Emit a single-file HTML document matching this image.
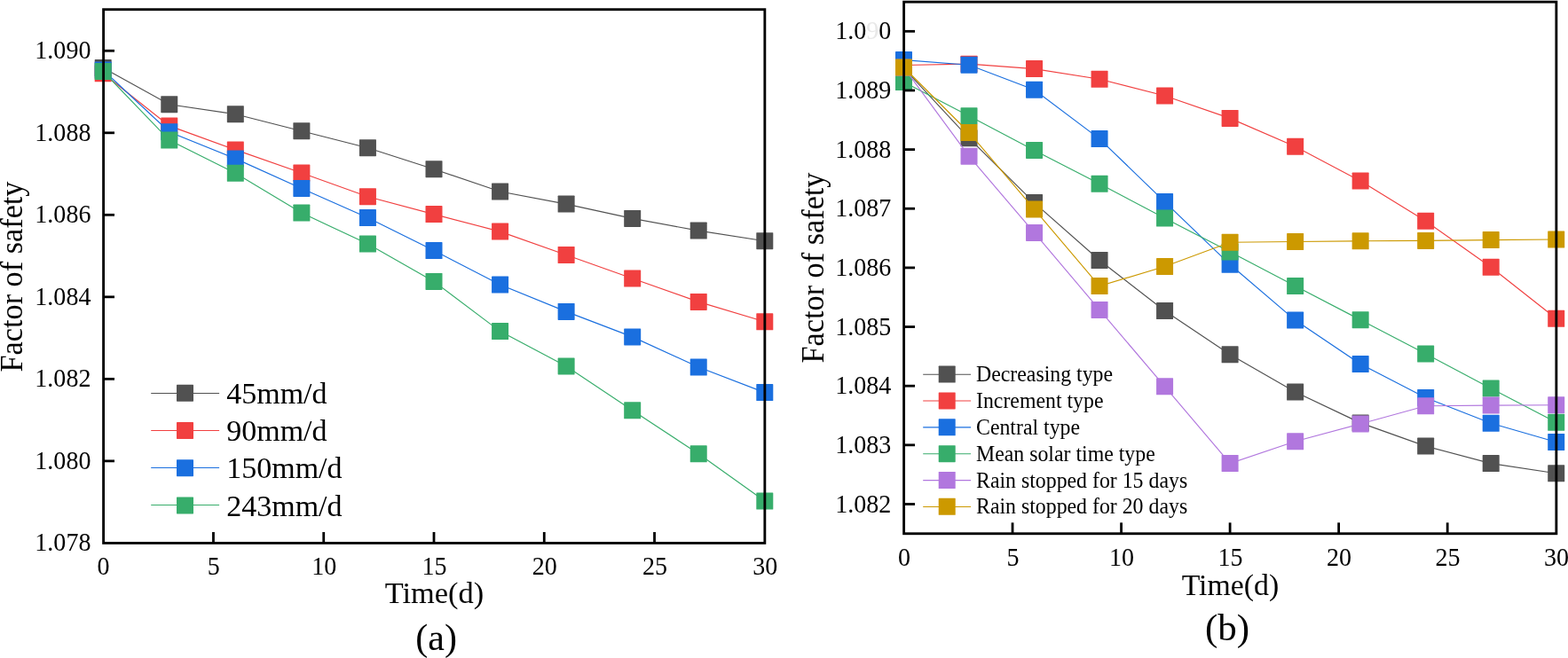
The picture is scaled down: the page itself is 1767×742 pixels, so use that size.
<!DOCTYPE html>
<html lang="en"><head><meta charset="utf-8"><title>Factor of safety vs time</title>
<style>html,body{margin:0;padding:0;background:#fff}body{width:1767px;height:742px;overflow:hidden}svg{display:block}text{font-family:"Liberation Serif","Times New Roman",serif;fill:#000}</style></head><body>
<svg width="1767" height="742" viewBox="0 0 1767 742">
<rect width="1767" height="742" fill="#fff"/>
<polyline points="116.2,76.6 190.76,117.7 265.32,128.7 339.88,147.7 414.44,166.7 489,190.7 563.56,216 638.12,230.1 712.68,246.4 787.24,260.1 861.8,271.7" fill="none" stroke="#515151" stroke-width="1.15"/>
<rect x="106.7" y="67.1" width="19.0" height="19.0" rx="0.6" fill="#515151"/>
<rect x="181.26" y="108.2" width="19.0" height="19.0" rx="0.6" fill="#515151"/>
<rect x="255.82" y="119.2" width="19.0" height="19.0" rx="0.6" fill="#515151"/>
<rect x="330.38" y="138.2" width="19.0" height="19.0" rx="0.6" fill="#515151"/>
<rect x="404.94" y="157.2" width="19.0" height="19.0" rx="0.6" fill="#515151"/>
<rect x="479.5" y="181.2" width="19.0" height="19.0" rx="0.6" fill="#515151"/>
<rect x="554.06" y="206.5" width="19.0" height="19.0" rx="0.6" fill="#515151"/>
<rect x="628.62" y="220.6" width="19.0" height="19.0" rx="0.6" fill="#515151"/>
<rect x="703.18" y="236.9" width="19.0" height="19.0" rx="0.6" fill="#515151"/>
<rect x="777.74" y="250.6" width="19.0" height="19.0" rx="0.6" fill="#515151"/>
<rect x="852.3" y="262.2" width="19.0" height="19.0" rx="0.6" fill="#515151"/>
<polyline points="116.2,82.8 190.76,141.9 265.32,168.9 339.88,195 414.44,221.7 489,241.6 563.56,261.1 638.12,287.5 712.68,314 787.24,340.4 861.8,362.8" fill="none" stroke="#F14040" stroke-width="1.15"/>
<rect x="106.7" y="73.3" width="19.0" height="19.0" rx="0.6" fill="#F14040"/>
<rect x="181.26" y="132.4" width="19.0" height="19.0" rx="0.6" fill="#F14040"/>
<rect x="255.82" y="159.4" width="19.0" height="19.0" rx="0.6" fill="#F14040"/>
<rect x="330.38" y="185.5" width="19.0" height="19.0" rx="0.6" fill="#F14040"/>
<rect x="404.94" y="212.2" width="19.0" height="19.0" rx="0.6" fill="#F14040"/>
<rect x="479.5" y="232.1" width="19.0" height="19.0" rx="0.6" fill="#F14040"/>
<rect x="554.06" y="251.6" width="19.0" height="19.0" rx="0.6" fill="#F14040"/>
<rect x="628.62" y="278" width="19.0" height="19.0" rx="0.6" fill="#F14040"/>
<rect x="703.18" y="304.5" width="19.0" height="19.0" rx="0.6" fill="#F14040"/>
<rect x="777.74" y="330.9" width="19.0" height="19.0" rx="0.6" fill="#F14040"/>
<rect x="852.3" y="353.3" width="19.0" height="19.0" rx="0.6" fill="#F14040"/>
<polyline points="116.2,79 190.76,148.7 265.32,178.9 339.88,212.4 414.44,245.5 489,282.6 563.56,321.1 638.12,351.4 712.68,379.9 787.24,414 861.8,442.6" fill="none" stroke="#1A6FDF" stroke-width="1.15"/>
<rect x="106.7" y="69.5" width="19.0" height="19.0" rx="0.6" fill="#1A6FDF"/>
<rect x="181.26" y="139.2" width="19.0" height="19.0" rx="0.6" fill="#1A6FDF"/>
<rect x="255.82" y="169.4" width="19.0" height="19.0" rx="0.6" fill="#1A6FDF"/>
<rect x="330.38" y="202.9" width="19.0" height="19.0" rx="0.6" fill="#1A6FDF"/>
<rect x="404.94" y="236" width="19.0" height="19.0" rx="0.6" fill="#1A6FDF"/>
<rect x="479.5" y="273.1" width="19.0" height="19.0" rx="0.6" fill="#1A6FDF"/>
<rect x="554.06" y="311.6" width="19.0" height="19.0" rx="0.6" fill="#1A6FDF"/>
<rect x="628.62" y="341.9" width="19.0" height="19.0" rx="0.6" fill="#1A6FDF"/>
<rect x="703.18" y="370.4" width="19.0" height="19.0" rx="0.6" fill="#1A6FDF"/>
<rect x="777.74" y="404.5" width="19.0" height="19.0" rx="0.6" fill="#1A6FDF"/>
<rect x="852.3" y="433.1" width="19.0" height="19.0" rx="0.6" fill="#1A6FDF"/>
<polyline points="116.2,80.5 190.76,158.1 265.32,195.3 339.88,240.1 414.44,275.1 489,317.4 563.56,373.6 638.12,412.9 712.68,462.8 787.24,511.8 861.8,565" fill="none" stroke="#37AD6B" stroke-width="1.15"/>
<rect x="106.7" y="71" width="19.0" height="19.0" rx="0.6" fill="#37AD6B"/>
<rect x="181.26" y="148.6" width="19.0" height="19.0" rx="0.6" fill="#37AD6B"/>
<rect x="255.82" y="185.8" width="19.0" height="19.0" rx="0.6" fill="#37AD6B"/>
<rect x="330.38" y="230.6" width="19.0" height="19.0" rx="0.6" fill="#37AD6B"/>
<rect x="404.94" y="265.6" width="19.0" height="19.0" rx="0.6" fill="#37AD6B"/>
<rect x="479.5" y="307.9" width="19.0" height="19.0" rx="0.6" fill="#37AD6B"/>
<rect x="554.06" y="364.1" width="19.0" height="19.0" rx="0.6" fill="#37AD6B"/>
<rect x="628.62" y="403.4" width="19.0" height="19.0" rx="0.6" fill="#37AD6B"/>
<rect x="703.18" y="453.3" width="19.0" height="19.0" rx="0.6" fill="#37AD6B"/>
<rect x="777.74" y="502.3" width="19.0" height="19.0" rx="0.6" fill="#37AD6B"/>
<rect x="852.3" y="555.5" width="19.0" height="19.0" rx="0.6" fill="#37AD6B"/>
<line x1="240.47" y1="612.4" x2="240.47" y2="600" stroke="#000" stroke-width="2.8"/>
<line x1="364.73" y1="612.4" x2="364.73" y2="600" stroke="#000" stroke-width="2.8"/>
<line x1="489" y1="612.4" x2="489" y2="600" stroke="#000" stroke-width="2.8"/>
<line x1="613.27" y1="612.4" x2="613.27" y2="600" stroke="#000" stroke-width="2.8"/>
<line x1="737.53" y1="612.4" x2="737.53" y2="600" stroke="#000" stroke-width="2.8"/>
<line x1="116.6" y1="519.88" x2="129" y2="519.88" stroke="#000" stroke-width="2.8"/>
<line x1="116.6" y1="427.36" x2="129" y2="427.36" stroke="#000" stroke-width="2.8"/>
<line x1="116.6" y1="334.84" x2="129" y2="334.84" stroke="#000" stroke-width="2.8"/>
<line x1="116.6" y1="242.32" x2="129" y2="242.32" stroke="#000" stroke-width="2.8"/>
<line x1="116.6" y1="149.8" x2="129" y2="149.8" stroke="#000" stroke-width="2.8"/>
<line x1="116.6" y1="57.28" x2="129" y2="57.28" stroke="#000" stroke-width="2.8"/>
<rect x="116.6" y="10.7" width="745.25" height="601.7" fill="none" stroke="#000" stroke-width="2.85"/>
<text transform="translate(102.4,621.4) scale(0.96,1)" font-size="29.2" text-anchor="end">1.078</text>
<text transform="translate(102.4,528.88) scale(0.96,1)" font-size="29.2" text-anchor="end">1.080</text>
<text transform="translate(102.4,436.36) scale(0.96,1)" font-size="29.2" text-anchor="end">1.082</text>
<text transform="translate(102.4,343.84) scale(0.96,1)" font-size="29.2" text-anchor="end">1.084</text>
<text transform="translate(102.4,251.32) scale(0.96,1)" font-size="29.2" text-anchor="end">1.086</text>
<text transform="translate(102.4,158.8) scale(0.96,1)" font-size="29.2" text-anchor="end">1.088</text>
<text transform="translate(102.4,66.28) scale(0.96,1)" font-size="29.2" text-anchor="end">1.090</text>
<text transform="translate(116.6,648.4) scale(0.96,1)" font-size="29.2" text-anchor="middle">0</text>
<text transform="translate(240.87,648.4) scale(0.96,1)" font-size="29.2" text-anchor="middle">5</text>
<text transform="translate(365.13,648.4) scale(0.96,1)" font-size="29.2" text-anchor="middle">10</text>
<text transform="translate(489.4,648.4) scale(0.96,1)" font-size="29.2" text-anchor="middle">15</text>
<text transform="translate(613.67,648.4) scale(0.96,1)" font-size="29.2" text-anchor="middle">20</text>
<text transform="translate(737.93,648.4) scale(0.96,1)" font-size="29.2" text-anchor="middle">25</text>
<text transform="translate(862.2,648.4) scale(0.96,1)" font-size="29.2" text-anchor="middle">30</text>
<line x1="170.2" y1="443.5" x2="247.1" y2="443.5" stroke="#515151" stroke-width="1.05"/>
<rect x="199" y="433.7" width="19.0" height="19.0" rx="0.6" fill="#515151"/>
<text transform="translate(255.2,454.9) scale(1.006,1)" font-size="33.8">45mm/d</text>
<line x1="170.2" y1="485.5" x2="247.1" y2="485.5" stroke="#F14040" stroke-width="1.05"/>
<rect x="199" y="475.93" width="19.0" height="19.0" rx="0.6" fill="#F14040"/>
<text transform="translate(255.2,497.13) scale(1.006,1)" font-size="33.8">90mm/d</text>
<line x1="170.2" y1="527.5" x2="247.1" y2="527.5" stroke="#1A6FDF" stroke-width="1.05"/>
<rect x="199" y="518.16" width="19.0" height="19.0" rx="0.6" fill="#1A6FDF"/>
<text transform="translate(255.2,539.36) scale(1.006,1)" font-size="33.8">150mm/d</text>
<line x1="170.2" y1="569.5" x2="247.1" y2="569.5" stroke="#37AD6B" stroke-width="1.05"/>
<rect x="199" y="560.39" width="19.0" height="19.0" rx="0.6" fill="#37AD6B"/>
<text transform="translate(255.2,581.59) scale(1.006,1)" font-size="33.8">243mm/d</text>
<text transform="translate(24.7,312) rotate(-90) scale(0.985,1)" font-size="34.8" text-anchor="middle">Factor of safety</text>
<text transform="translate(489.4,680.3)" font-size="34.4" text-anchor="middle">Time(d)</text>
<text transform="translate(491.6,732.5)" font-size="42" text-anchor="middle">(a)</text>
<polyline points="1018.5,76.8 1092.02,155.8 1165.54,228.6 1239.06,293.5 1312.58,350.5 1386.1,399.8 1459.62,442 1533.14,476.9 1606.66,503.1 1680.18,522.6 1753.7,533.8" fill="none" stroke="#515151" stroke-width="1.15"/>
<rect x="1009" y="67.3" width="19.0" height="19.0" rx="0.6" fill="#515151"/>
<rect x="1082.52" y="146.3" width="19.0" height="19.0" rx="0.6" fill="#515151"/>
<rect x="1156.04" y="219.1" width="19.0" height="19.0" rx="0.6" fill="#515151"/>
<rect x="1229.56" y="284" width="19.0" height="19.0" rx="0.6" fill="#515151"/>
<rect x="1303.08" y="341" width="19.0" height="19.0" rx="0.6" fill="#515151"/>
<rect x="1376.6" y="390.3" width="19.0" height="19.0" rx="0.6" fill="#515151"/>
<rect x="1450.12" y="432.5" width="19.0" height="19.0" rx="0.6" fill="#515151"/>
<rect x="1523.64" y="467.4" width="19.0" height="19.0" rx="0.6" fill="#515151"/>
<rect x="1597.16" y="493.6" width="19.0" height="19.0" rx="0.6" fill="#515151"/>
<rect x="1670.68" y="513.1" width="19.0" height="19.0" rx="0.6" fill="#515151"/>
<rect x="1744.2" y="524.3" width="19.0" height="19.0" rx="0.6" fill="#515151"/>
<polyline points="1018.5,73.5 1092.02,72.2 1165.54,77.6 1239.06,89.3 1312.58,108 1386.1,133.4 1459.62,165.2 1533.14,204.1 1606.66,249.3 1680.18,301.3 1753.7,359.3" fill="none" stroke="#F14040" stroke-width="1.15"/>
<rect x="1009" y="64" width="19.0" height="19.0" rx="0.6" fill="#F14040"/>
<rect x="1082.52" y="62.7" width="19.0" height="19.0" rx="0.6" fill="#F14040"/>
<rect x="1156.04" y="68.1" width="19.0" height="19.0" rx="0.6" fill="#F14040"/>
<rect x="1229.56" y="79.8" width="19.0" height="19.0" rx="0.6" fill="#F14040"/>
<rect x="1303.08" y="98.5" width="19.0" height="19.0" rx="0.6" fill="#F14040"/>
<rect x="1376.6" y="123.9" width="19.0" height="19.0" rx="0.6" fill="#F14040"/>
<rect x="1450.12" y="155.7" width="19.0" height="19.0" rx="0.6" fill="#F14040"/>
<rect x="1523.64" y="194.6" width="19.0" height="19.0" rx="0.6" fill="#F14040"/>
<rect x="1597.16" y="239.8" width="19.0" height="19.0" rx="0.6" fill="#F14040"/>
<rect x="1670.68" y="291.8" width="19.0" height="19.0" rx="0.6" fill="#F14040"/>
<rect x="1744.2" y="349.8" width="19.0" height="19.0" rx="0.6" fill="#F14040"/>
<polyline points="1018.5,67.6 1092.02,73.2 1165.54,101.2 1239.06,156.6 1312.58,227.6 1386.1,298.3 1459.62,361.1 1533.14,410.6 1606.66,448.5 1680.18,477.3 1753.7,498.5" fill="none" stroke="#1A6FDF" stroke-width="1.15"/>
<rect x="1009" y="58.1" width="19.0" height="19.0" rx="0.6" fill="#1A6FDF"/>
<rect x="1082.52" y="63.7" width="19.0" height="19.0" rx="0.6" fill="#1A6FDF"/>
<rect x="1156.04" y="91.7" width="19.0" height="19.0" rx="0.6" fill="#1A6FDF"/>
<rect x="1229.56" y="147.1" width="19.0" height="19.0" rx="0.6" fill="#1A6FDF"/>
<rect x="1303.08" y="218.1" width="19.0" height="19.0" rx="0.6" fill="#1A6FDF"/>
<rect x="1376.6" y="288.8" width="19.0" height="19.0" rx="0.6" fill="#1A6FDF"/>
<rect x="1450.12" y="351.6" width="19.0" height="19.0" rx="0.6" fill="#1A6FDF"/>
<rect x="1523.64" y="401.1" width="19.0" height="19.0" rx="0.6" fill="#1A6FDF"/>
<rect x="1597.16" y="439" width="19.0" height="19.0" rx="0.6" fill="#1A6FDF"/>
<rect x="1670.68" y="467.8" width="19.0" height="19.0" rx="0.6" fill="#1A6FDF"/>
<rect x="1744.2" y="489" width="19.0" height="19.0" rx="0.6" fill="#1A6FDF"/>
<polyline points="1018.5,92.6 1092.02,130.8 1165.54,169.4 1239.06,207.3 1312.58,246.1 1386.1,284 1459.62,322.6 1533.14,360.7 1606.66,399 1680.18,438 1753.7,476.3" fill="none" stroke="#37AD6B" stroke-width="1.15"/>
<rect x="1009" y="83.1" width="19.0" height="19.0" rx="0.6" fill="#37AD6B"/>
<rect x="1082.52" y="121.3" width="19.0" height="19.0" rx="0.6" fill="#37AD6B"/>
<rect x="1156.04" y="159.9" width="19.0" height="19.0" rx="0.6" fill="#37AD6B"/>
<rect x="1229.56" y="197.8" width="19.0" height="19.0" rx="0.6" fill="#37AD6B"/>
<rect x="1303.08" y="236.6" width="19.0" height="19.0" rx="0.6" fill="#37AD6B"/>
<rect x="1376.6" y="274.5" width="19.0" height="19.0" rx="0.6" fill="#37AD6B"/>
<rect x="1450.12" y="313.1" width="19.0" height="19.0" rx="0.6" fill="#37AD6B"/>
<rect x="1523.64" y="351.2" width="19.0" height="19.0" rx="0.6" fill="#37AD6B"/>
<rect x="1597.16" y="389.5" width="19.0" height="19.0" rx="0.6" fill="#37AD6B"/>
<rect x="1670.68" y="428.5" width="19.0" height="19.0" rx="0.6" fill="#37AD6B"/>
<rect x="1744.2" y="466.8" width="19.0" height="19.0" rx="0.6" fill="#37AD6B"/>
<polyline points="1018.5,76.2 1092.02,176.2 1165.54,262.4 1239.06,349.4 1312.58,435.8 1386.1,522.5 1459.62,497.8 1533.14,478 1606.66,457.8 1680.18,457.1 1753.7,456.7" fill="none" stroke="#B177DE" stroke-width="1.15"/>
<rect x="1009" y="66.7" width="19.0" height="19.0" rx="0.6" fill="#B177DE"/>
<rect x="1082.52" y="166.7" width="19.0" height="19.0" rx="0.6" fill="#B177DE"/>
<rect x="1156.04" y="252.9" width="19.0" height="19.0" rx="0.6" fill="#B177DE"/>
<rect x="1229.56" y="339.9" width="19.0" height="19.0" rx="0.6" fill="#B177DE"/>
<rect x="1303.08" y="426.3" width="19.0" height="19.0" rx="0.6" fill="#B177DE"/>
<rect x="1376.6" y="513" width="19.0" height="19.0" rx="0.6" fill="#B177DE"/>
<rect x="1450.12" y="488.3" width="19.0" height="19.0" rx="0.6" fill="#B177DE"/>
<rect x="1523.64" y="468.5" width="19.0" height="19.0" rx="0.6" fill="#B177DE"/>
<rect x="1597.16" y="448.3" width="19.0" height="19.0" rx="0.6" fill="#B177DE"/>
<rect x="1670.68" y="447.6" width="19.0" height="19.0" rx="0.6" fill="#B177DE"/>
<rect x="1744.2" y="447.2" width="19.0" height="19.0" rx="0.6" fill="#B177DE"/>
<polyline points="1018.5,76 1092.02,149.5 1165.54,235.9 1239.06,322.6 1312.58,300.5 1386.1,273.3 1459.62,272.5 1533.14,271.8 1606.66,271.4 1680.18,270.6 1753.7,270" fill="none" stroke="#CC9900" stroke-width="1.15"/>
<rect x="1009" y="66.5" width="19.0" height="19.0" rx="0.6" fill="#CC9900"/>
<rect x="1082.52" y="140" width="19.0" height="19.0" rx="0.6" fill="#CC9900"/>
<rect x="1156.04" y="226.4" width="19.0" height="19.0" rx="0.6" fill="#CC9900"/>
<rect x="1229.56" y="313.1" width="19.0" height="19.0" rx="0.6" fill="#CC9900"/>
<rect x="1303.08" y="291" width="19.0" height="19.0" rx="0.6" fill="#CC9900"/>
<rect x="1376.6" y="263.8" width="19.0" height="19.0" rx="0.6" fill="#CC9900"/>
<rect x="1450.12" y="263" width="19.0" height="19.0" rx="0.6" fill="#CC9900"/>
<rect x="1523.64" y="262.3" width="19.0" height="19.0" rx="0.6" fill="#CC9900"/>
<rect x="1597.16" y="261.9" width="19.0" height="19.0" rx="0.6" fill="#CC9900"/>
<rect x="1670.68" y="261.1" width="19.0" height="19.0" rx="0.6" fill="#CC9900"/>
<rect x="1744.2" y="260.5" width="19.0" height="19.0" rx="0.6" fill="#CC9900"/>
<line x1="1141.03" y1="601.75" x2="1141.03" y2="589.35" stroke="#000" stroke-width="2.8"/>
<line x1="1263.57" y1="601.75" x2="1263.57" y2="589.35" stroke="#000" stroke-width="2.8"/>
<line x1="1386.1" y1="601.75" x2="1386.1" y2="589.35" stroke="#000" stroke-width="2.8"/>
<line x1="1508.63" y1="601.75" x2="1508.63" y2="589.35" stroke="#000" stroke-width="2.8"/>
<line x1="1631.17" y1="601.75" x2="1631.17" y2="589.35" stroke="#000" stroke-width="2.8"/>
<line x1="1018.6" y1="568.5" x2="1031" y2="568.5" stroke="#000" stroke-width="2.8"/>
<line x1="1018.6" y1="501.85" x2="1031" y2="501.85" stroke="#000" stroke-width="2.8"/>
<line x1="1018.6" y1="435.2" x2="1031" y2="435.2" stroke="#000" stroke-width="2.8"/>
<line x1="1018.6" y1="368.55" x2="1031" y2="368.55" stroke="#000" stroke-width="2.8"/>
<line x1="1018.6" y1="301.9" x2="1031" y2="301.9" stroke="#000" stroke-width="2.8"/>
<line x1="1018.6" y1="235.25" x2="1031" y2="235.25" stroke="#000" stroke-width="2.8"/>
<line x1="1018.6" y1="168.6" x2="1031" y2="168.6" stroke="#000" stroke-width="2.8"/>
<line x1="1018.6" y1="101.95" x2="1031" y2="101.95" stroke="#000" stroke-width="2.8"/>
<line x1="1018.6" y1="35.3" x2="1031" y2="35.3" stroke="#000" stroke-width="2.8"/>
<rect x="1018.6" y="2.15" width="735.25" height="599.6" fill="none" stroke="#000" stroke-width="2.85"/>
<text transform="translate(1004.2,577.5) scale(0.96,1)" font-size="29.2" text-anchor="end">1.082</text>
<text transform="translate(1004.2,510.85) scale(0.96,1)" font-size="29.2" text-anchor="end">1.083</text>
<text transform="translate(1004.2,444.2) scale(0.96,1)" font-size="29.2" text-anchor="end">1.084</text>
<text transform="translate(1004.2,377.55) scale(0.96,1)" font-size="29.2" text-anchor="end">1.085</text>
<text transform="translate(1004.2,310.9) scale(0.96,1)" font-size="29.2" text-anchor="end">1.086</text>
<text transform="translate(1004.2,244.25) scale(0.96,1)" font-size="29.2" text-anchor="end">1.087</text>
<text transform="translate(1004.2,177.6) scale(0.96,1)" font-size="29.2" text-anchor="end">1.088</text>
<text transform="translate(1004.2,110.95) scale(0.96,1)" font-size="29.2" text-anchor="end">1.089</text>
<text transform="translate(1004.2,44.3) scale(0.96,1)" font-size="29.2" text-anchor="end">1.0<tspan fill="#e8e8e8">9</tspan>0</text>
<text transform="translate(1018.9,638) scale(0.96,1)" font-size="29.2" text-anchor="middle">0</text>
<text transform="translate(1141.43,638) scale(0.96,1)" font-size="29.2" text-anchor="middle">5</text>
<text transform="translate(1263.97,638) scale(0.96,1)" font-size="29.2" text-anchor="middle">10</text>
<text transform="translate(1386.5,638) scale(0.96,1)" font-size="29.2" text-anchor="middle">15</text>
<text transform="translate(1509.03,638) scale(0.96,1)" font-size="29.2" text-anchor="middle">20</text>
<text transform="translate(1631.57,638) scale(0.96,1)" font-size="29.2" text-anchor="middle">25</text>
<text transform="translate(1754.1,638) scale(0.96,1)" font-size="29.2" text-anchor="middle">30</text>
<line x1="1040.2" y1="422.2" x2="1094.1" y2="422.2" stroke="#515151" stroke-width="1.1"/>
<rect x="1057.7" y="412.6" width="19.0" height="19.0" rx="0.6" fill="#515151"/>
<text transform="translate(1100,430.1) scale(0.985,1)" font-size="24.2">Decreasing type</text>
<line x1="1040.2" y1="452.05" x2="1094.1" y2="452.05" stroke="#F14040" stroke-width="1.1"/>
<rect x="1057.7" y="442.45" width="19.0" height="19.0" rx="0.6" fill="#F14040"/>
<text transform="translate(1100,459.95) scale(0.985,1)" font-size="24.2">Increment type</text>
<line x1="1040.2" y1="481.9" x2="1094.1" y2="481.9" stroke="#1A6FDF" stroke-width="1.1"/>
<rect x="1057.7" y="472.3" width="19.0" height="19.0" rx="0.6" fill="#1A6FDF"/>
<text transform="translate(1100,489.8) scale(0.985,1)" font-size="24.2">Central type</text>
<line x1="1040.2" y1="511.75" x2="1094.1" y2="511.75" stroke="#37AD6B" stroke-width="1.1"/>
<rect x="1057.7" y="502.15" width="19.0" height="19.0" rx="0.6" fill="#37AD6B"/>
<text transform="translate(1100,519.65) scale(0.985,1)" font-size="24.2">Mean solar time type</text>
<line x1="1040.2" y1="541.6" x2="1094.1" y2="541.6" stroke="#B177DE" stroke-width="1.1"/>
<rect x="1057.7" y="532" width="19.0" height="19.0" rx="0.6" fill="#B177DE"/>
<text transform="translate(1100,549.5) scale(0.985,1)" font-size="24.2">Rain stopped for 15 days</text>
<line x1="1040.2" y1="571.45" x2="1094.1" y2="571.45" stroke="#CC9900" stroke-width="1.1"/>
<rect x="1057.7" y="561.85" width="19.0" height="19.0" rx="0.6" fill="#CC9900"/>
<text transform="translate(1100,579.35) scale(0.985,1)" font-size="24.2">Rain stopped for 20 days</text>
<text transform="translate(927.6,302) rotate(-90) scale(0.985,1)" font-size="34.8" text-anchor="middle">Factor of safety</text>
<text transform="translate(1386.4,671.2)" font-size="33.8" text-anchor="middle">Time(d)</text>
<text transform="translate(1383.1,721.5)" font-size="43" text-anchor="middle">(b)</text>
</svg></body></html>
